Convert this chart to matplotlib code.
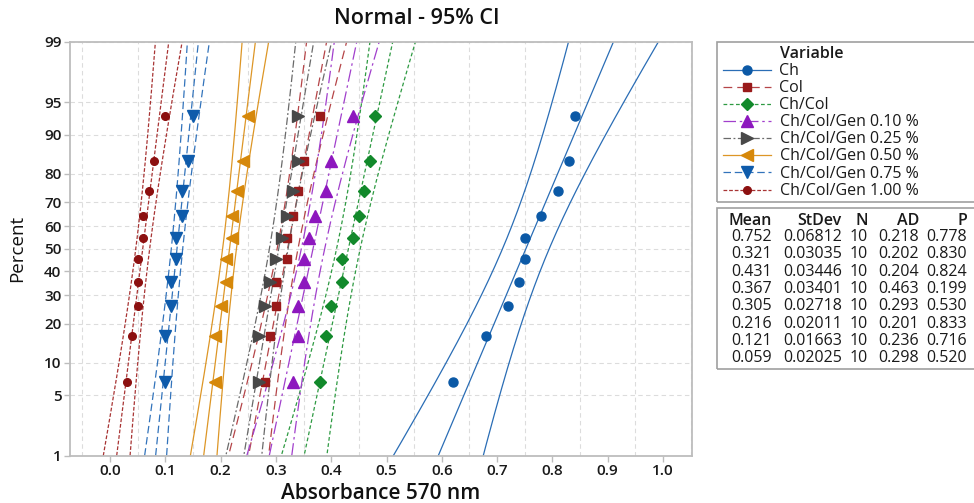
from statistics import NormalDist
import numpy as np
import matplotlib
matplotlib.use("Agg")
from matplotlib import pyplot as plt
from matplotlib.lines import Line2D
from matplotlib.patches import Rectangle

plt.rcParams['font.family'] = ['Open Sans', 'DejaVu Sans']

# Normal probability plot of absorbance at 570 nm
variables = ["Ch", "Col", "Ch/Col", "Ch/Col/Gen 0.10 %", "Ch/Col/Gen 0.25 %",
             "Ch/Col/Gen 0.50 %", "Ch/Col/Gen 0.75 %", "Ch/Col/Gen 1.00 %"]

ch = [0.62, 0.68, 0.72, 0.74, 0.75, 0.75, 0.78, 0.81, 0.83, 0.84]
col = [0.28, 0.29, 0.30, 0.30, 0.32, 0.32, 0.33, 0.34, 0.35, 0.38]
ch_col = [0.38, 0.39, 0.40, 0.42, 0.42, 0.44, 0.45, 0.46, 0.47, 0.48]
gen_010 = [0.33, 0.34, 0.34, 0.35, 0.35, 0.36, 0.37, 0.39, 0.40, 0.44]
gen_025 = [0.27, 0.27, 0.28, 0.29, 0.30, 0.31, 0.32, 0.33, 0.34, 0.34]
gen_050 = [0.19, 0.19, 0.20, 0.21, 0.21, 0.22, 0.22, 0.23, 0.24, 0.25]
gen_075 = [0.10, 0.10, 0.11, 0.11, 0.12, 0.12, 0.13, 0.13, 0.14, 0.15]
gen_100 = [0.03, 0.04, 0.05, 0.05, 0.05, 0.06, 0.06, 0.07, 0.08, 0.10]
samples = [ch, col, ch_col, gen_010, gen_025, gen_050, gen_075, gen_100]

means = [0.752, 0.321, 0.431, 0.367, 0.305, 0.216, 0.121, 0.059]
stdevs = [0.06812, 0.03035, 0.03446, 0.03401, 0.02718, 0.02011, 0.01663, 0.02025]
ns = [10, 10, 10, 10, 10, 10, 10, 10]
ads = [0.218, 0.202, 0.204, 0.463, 0.293, 0.201, 0.236, 0.298]
pvals = [0.778, 0.830, 0.824, 0.199, 0.530, 0.833, 0.716, 0.520]

pct_ticks = [1, 5, 10, 20, 30, 40, 50, 60, 70, 80, 90, 95, 99]
x_ticks = [0.0, 0.1, 0.2, 0.3, 0.4, 0.5, 0.6, 0.7, 0.8, 0.9, 1.0]

# marker colour, line colour, line style, marker, marker size
styles = [
    ('#0b59a6', '#2a6db5', '-', 'o', 6.5),
    ('#991a1a', '#b54548', (0, (7, 4)), 's', 6),
    ('#12892b', '#2e9a42', (0, (3, 2)), 'D', 6.5),
    ('#8d17be', '#a13fcc', (0, (10, 3, 2, 3)), '^', 8.5),
    ('#484848', '#6a6a6a', (0, (6, 2, 1.5, 2)), '>', 8.5),
    ('#d6880a', '#dd9626', '-', '<', 8.5),
    ('#0e5bab', '#3273bb', (0, (6, 3)), 'v', 8.5),
    ('#8c1010', '#a83434', (0, (3, 1.5)), 'o', 5.5),
]

nd = NormalDist()
zf = lambda p: nd.inv_cdf(p / 100.0)

fig = plt.figure(figsize=(9.74, 5.03), dpi=100)
ax = fig.add_axes([0.0716, 0.0940, 0.6392, 0.8231])

zgrid = np.linspace(zf(0.5), zf(99.5), 200)
for data, m, s, n, st in zip(samples, means, stdevs, ns, styles):
    mc, lc, ls, mk, ms = st
    srt = np.sort(data)
    pos = [zf(100.0 * (i + 1 - 0.3) / (n + 0.4)) for i in range(n)]
    fit = m + zgrid * s
    half = 1.96 * s * np.sqrt(1.0 / n + zgrid ** 2 / (2.0 * n))
    for xs in (fit - half, fit, fit + half):
        ax.plot(xs, zgrid, color=lc, ls=ls, lw=0.9, zorder=2)
    ax.plot(srt, pos, ls='none', marker=mk, ms=ms, color=mc, mec=mc, zorder=3)

ax.set_xlim(-0.073, 1.053)
ax.set_ylim(zf(1), zf(99))
ax.set_yticks([zf(p) for p in pct_ticks])
ax.set_yticklabels([str(p) for p in pct_ticks])
ax.set_xticks(x_ticks)
ax.set_xticklabels(["%.1f" % v for v in x_ticks])
ax.set_xticks(np.arange(-0.05, 1.051, 0.05), minor=True)
ax.tick_params(which='minor', length=0)
ax.tick_params(which='major', length=4, width=1, color='#bdbdbd', pad=2,
               labelsize=11, labelcolor='#1a1a1a')
for lab in ax.get_xticklabels() + ax.get_yticklabels():
    lab.set_fontweight('semibold')
ax.grid(True, which='minor', axis='x', color='#dcdcdc', ls=(0, (4, 3)), lw=0.8)
ax.grid(True, which='major', axis='y', color='#dcdcdc', ls=(0, (4, 3)), lw=0.8)
ax.set_axisbelow(True)
for sp in ax.spines.values():
    sp.set_color('#bdbdbd')
    sp.set_linewidth(1.3)

fig.text(417 / 974, 1 - 24 / 503, "Normal - 95% CI", ha='center', va='baseline',
         fontsize=15.5, fontweight='semibold', color='#111111')
fig.text(381 / 974, 1 - 499 / 503, "Absorbance 570 nm", ha='center', va='baseline',
         fontsize=15, fontweight='semibold', color='#111111')
fig.text(17 / 974, 1 - 248 / 503, "Percent", ha='center', va='center', rotation=90,
         fontsize=13.5, color='#111111')

# legend box
W, H = 974.0, 503.0
fig.add_artist(Rectangle((716.7 / W, 1 - 202.3 / H), 0.4, (202.3 - 41.7) / H,
                         transform=fig.transFigure, fill=False, ec='#a0a0a0', lw=1.2))
fig.text(780 / W, 1 - 57.5 / H, "Variable", fontsize=11.5, fontweight='semibold',
         color='#1a1a1a', va='baseline')
row_y = [70, 87.3, 104, 120.7, 138.3, 155, 172.3, 190]
for name, st, yy in zip(variables, styles, row_y):
    mc, lc, ls, mk, ms = st
    fy = 1 - yy / H
    fig.add_artist(Line2D([722.7 / W, 770.7 / W], [fy, fy], transform=fig.transFigure,
                          color=lc, ls=ls, lw=0.9))
    fig.add_artist(Line2D([746.7 / W], [fy], transform=fig.transFigure, ls='none',
                          marker=mk, ms=ms, color=mc))
    fig.text(779.5 / W, 1 - (yy + 5.2) / H, name, fontsize=11.5, color='#1a1a1a',
             va='baseline')

# statistics table
fig.add_artist(Rectangle((716.7 / W, 1 - 369 / H), 0.4, (369 - 208) / H,
                         transform=fig.transFigure, fill=False, ec='#a0a0a0', lw=1.2))
col_x = [772, 842, 868, 919, 967]
headers = ["Mean", "StDev", "N", "AD", "P"]
for hx, htxt in zip(col_x, headers):
    fig.text(hx / W, 1 - 225 / H, htxt, fontsize=11.5, fontweight='semibold',
             color='#1a1a1a', ha='right', va='baseline')
tab_y = [236, 253.3, 270.6, 287.9, 305.2, 322.5, 339.8, 357]
for i, yy in enumerate(tab_y):
    vals = ["%.3f" % means[i], "%.5f" % stdevs[i], str(ns[i]),
            "%.3f" % ads[i], "%.3f" % pvals[i]]
    for hx, v in zip(col_x, vals):
        fig.text(hx / W, 1 - (yy + 5.0) / H, v, fontsize=11.5, color='#1a1a1a',
                 ha='right', va='baseline')

fig.savefig("out.png", dpi=100)
